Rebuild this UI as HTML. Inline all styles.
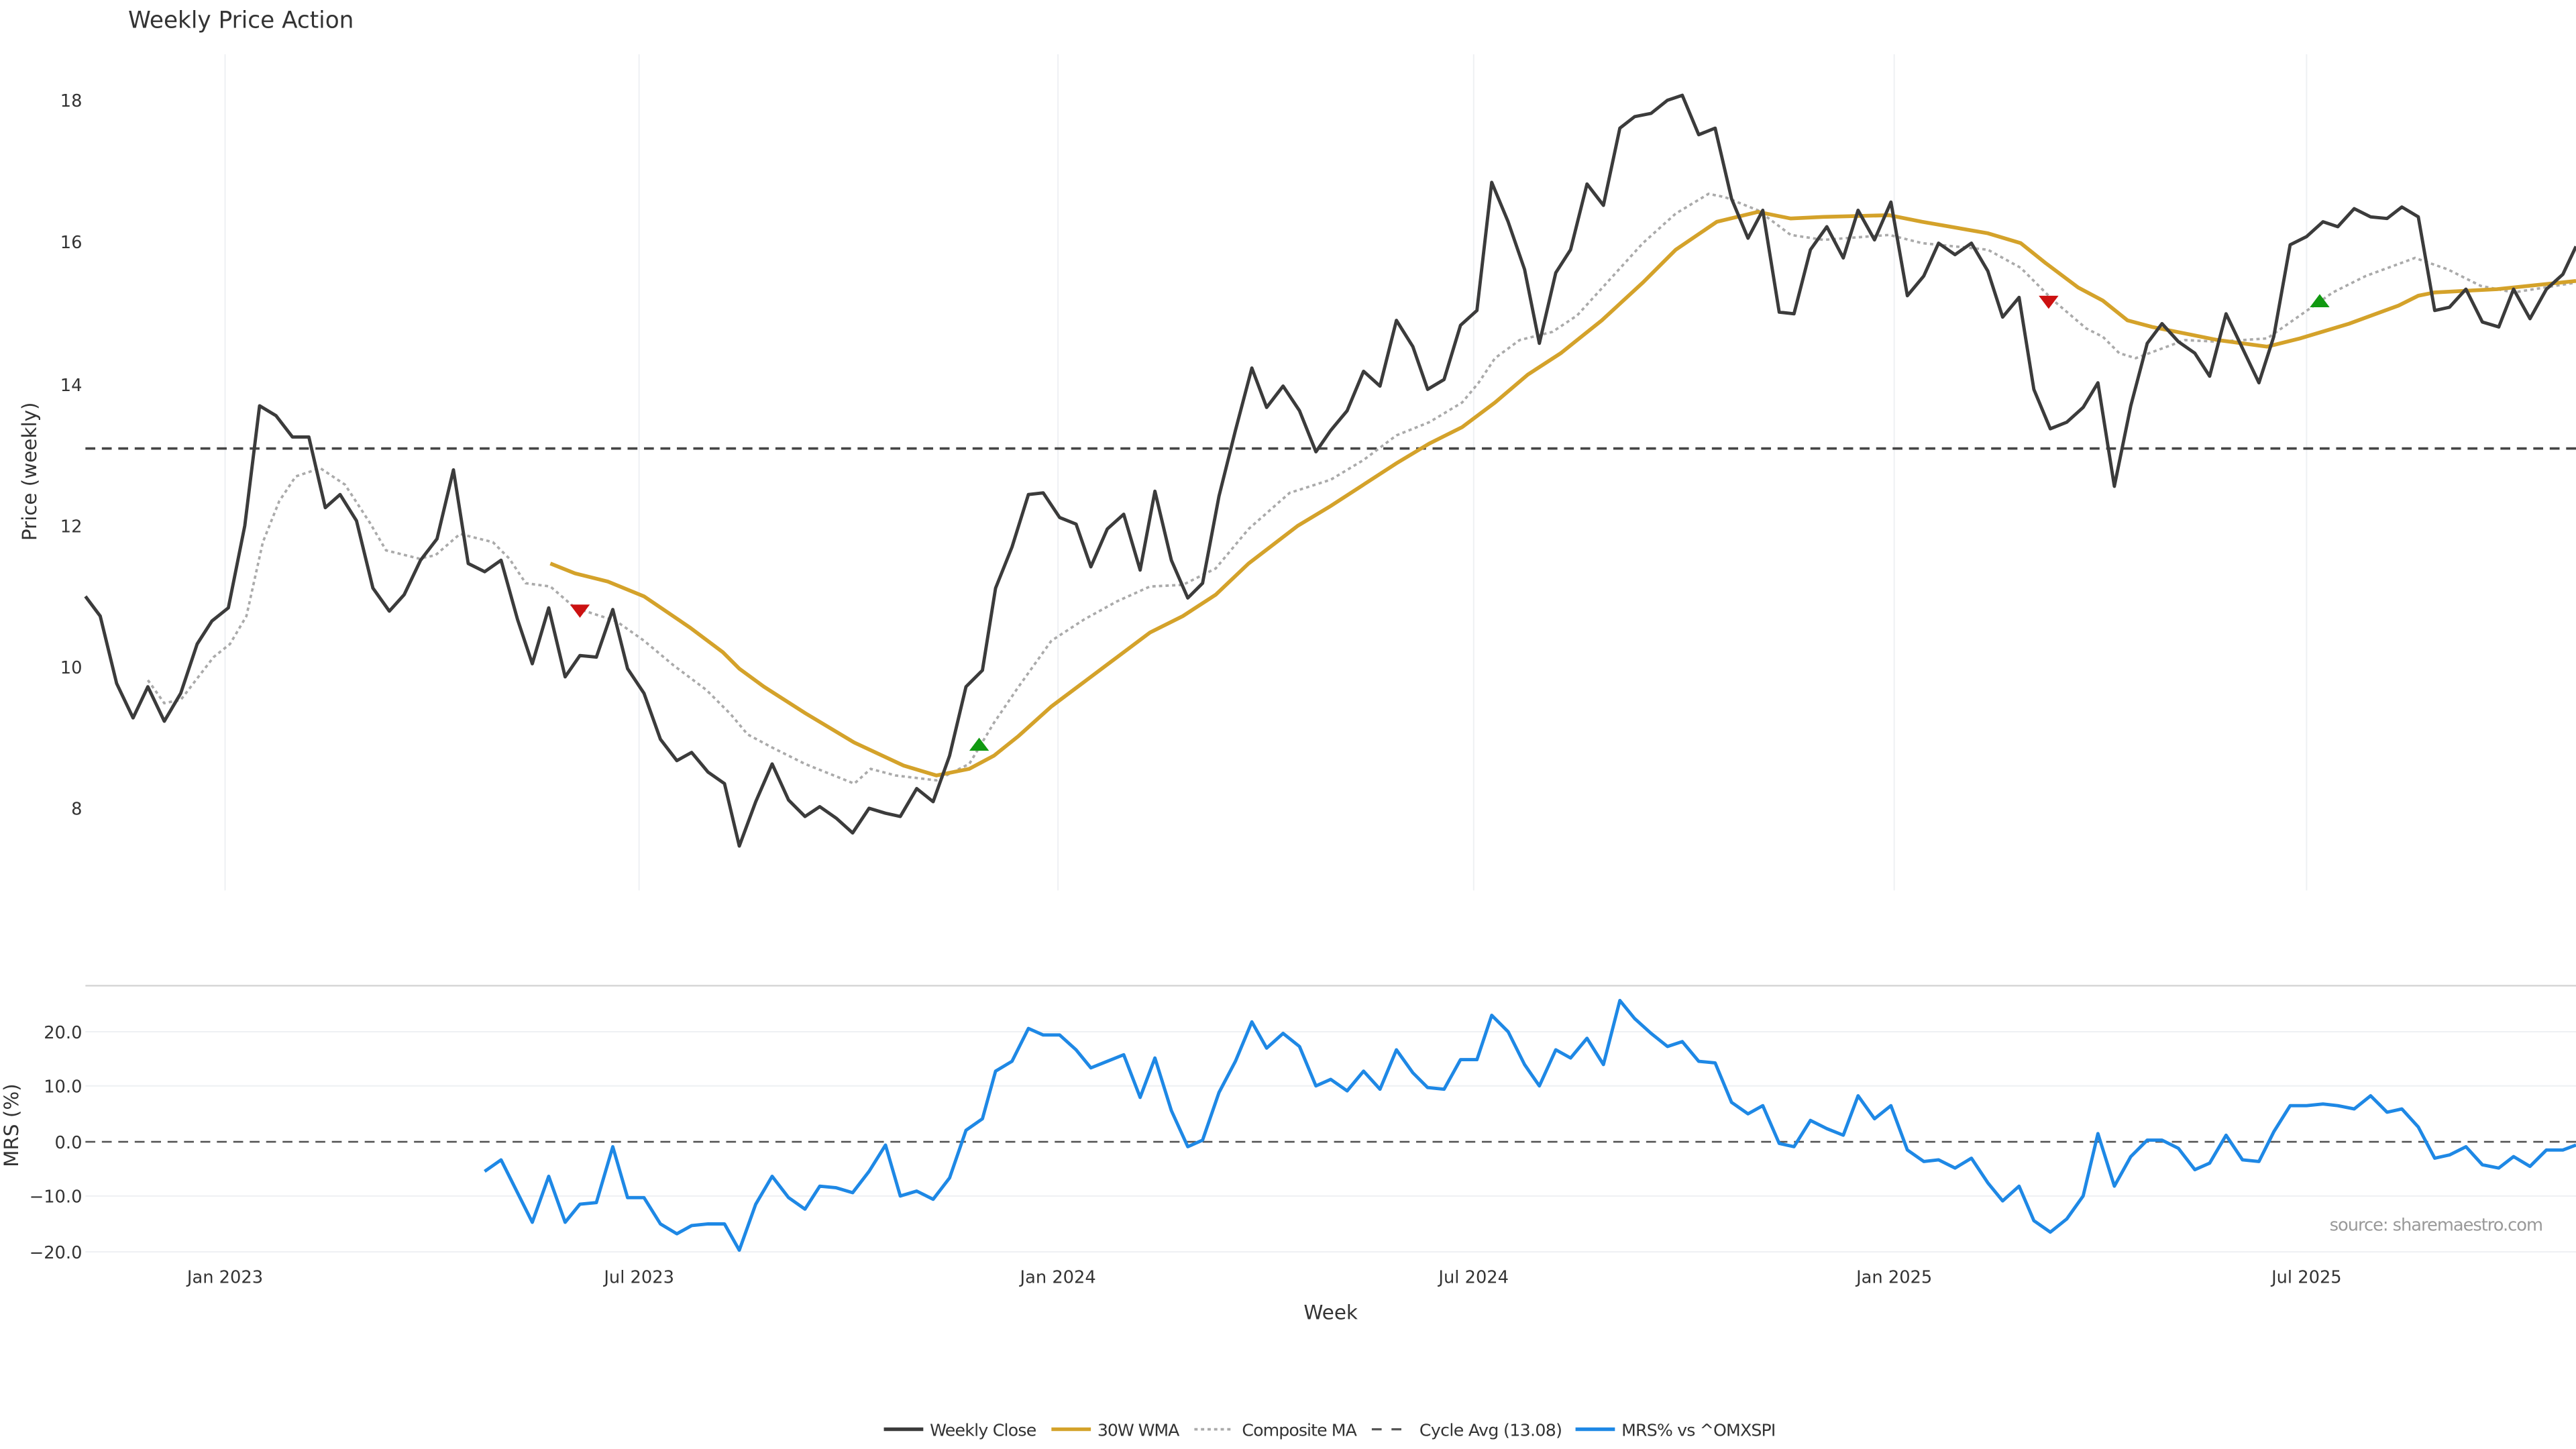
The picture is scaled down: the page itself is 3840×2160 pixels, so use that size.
<!DOCTYPE html>
<html><head><meta charset="utf-8"><style>
html,body{margin:0;padding:0;background:#fff;width:3840px;height:2160px;overflow:hidden}
svg{display:block}
text{font-family:"DejaVu Sans","Liberation Sans",sans-serif;fill:#333}
</style></head><body>
<svg width="3840" height="2160" viewBox="0 0 1568 882" xmlns="http://www.w3.org/2000/svg">
<rect width="1568" height="882" fill="#fff"/>
<text x="78" y="17" font-size="14">Weekly Price Action</text>
<g stroke="#eef0f3" stroke-width="0.8">
<line x1="137" y1="33" x2="137" y2="542"/><line x1="389" y1="33" x2="389" y2="542"/>
<line x1="644" y1="33" x2="644" y2="542"/><line x1="897" y1="33" x2="897" y2="542"/>
<line x1="1153" y1="33" x2="1153" y2="542"/><line x1="1404" y1="33" x2="1404" y2="542"/>
</g>
<g font-size="10.5" text-anchor="end">
<text x="50" y="65">18</text><text x="50" y="151">16</text><text x="50" y="238">14</text>
<text x="50" y="324">12</text><text x="50" y="410">10</text><text x="50" y="496">8</text>
</g>
<text transform="translate(22,287) rotate(-90)" font-size="12" text-anchor="middle">Price (weekly)</text>
<line x1="52" y1="273" x2="1568" y2="273" stroke="#444" stroke-width="1.5" stroke-dasharray="6,4"/>
<polyline fill="none" stroke="#aaa" stroke-width="1.5" stroke-dasharray="2,2" points="90,414 100,428 110,426 130,400 140,392 150,375 160,330 170,305 180,290 195,285 210,295 225,318 235,335 255,340 265,338 280,325 300,330 310,340 320,355 335,357 350,370 375,378 392,390 410,405 430,420 445,435 455,447 470,455 490,465 520,477 530,468 545,472 570,475 590,465 605,440 620,418 640,390 660,377 680,366 700,357 720,356 740,346 760,322 785,300 810,292 830,280 850,265 870,257 890,245 900,233 910,218 925,207 945,202 960,192 980,170 1000,148 1020,130 1040,118 1050,120 1070,128 1090,143 1110,146 1150,143 1170,148 1210,152 1230,163 1250,183 1270,200 1280,205 1290,215 1300,218 1330,207 1350,208 1380,206 1400,192 1420,178 1440,168 1470,157 1490,164 1510,174 1530,178 1568,172"/>
<polyline fill="none" stroke="#d4a22a" stroke-width="2.3" points="335,343 350,349 370,354 392,363 420,382 440,397 450,407 465,418 490,434 520,452 550,466 570,472 590,468 605,460 620,448 640,430 660,415 680,400 700,385 720,375 740,362 760,343 790,320 810,308 830,295 850,282 870,270 890,260 910,245 930,228 950,215 975,195 1000,172 1020,152 1045,135 1070,129 1090,133 1110,132 1150,131 1170,135 1210,142 1230,148 1245,160 1265,175 1280,183 1295,195 1310,199 1330,203 1350,207 1380,211 1400,206 1430,197 1460,186 1472,180 1482,178 1520,176 1568,171"/>
<polyline fill="none" stroke="#3b3b3b" stroke-width="2" stroke-linejoin="round" points="52,363 61,375 71,416 81,437 90,418 100,439 110,422 120,392 129,378 139,370 149,320 158,247 168,253 178,266 188,266 198,309 207,301 217,317 227,358 237,372 246,362 256,341 266,328 276,286 285,343 295,348 305,341 315,377 324,404 334,370 344,412 353,399 363,400 373,371 382,407 392,422 402,450 412,463 421,458 431,470 441,477 450,515 460,488 470,465 480,487 490,497 499,491 509,498 519,507 529,492 539,495 548,497 558,480 568,488 578,460 588,418 598,408 606,358 616,333 626,301 635,300 645,315 655,319 664,345 674,322 684,313 694,347 703,299 713,341 723,364 732,355 742,302 752,262 762,224 771,248 781,235 791,250 801,275 810,262 820,250 830,226 840,235 850,195 860,211 869,237 879,231 889,198 899,189 908,111 918,135 928,164 937,209 947,166 956,152 966,112 976,125 986,78 995,71 1005,69 1015,61 1024,58 1034,82 1044,78 1054,121 1064,145 1073,128 1083,190 1092,191 1102,152 1112,138 1122,157 1131,128 1141,146 1151,123 1161,180 1171,168 1180,148 1190,155 1200,148 1210,165 1219,193 1229,181 1238,237 1248,261 1258,257 1268,248 1277,233 1287,296 1297,247 1307,209 1316,197 1326,208 1336,215 1345,229 1355,191 1365,212 1375,233 1384,205 1394,149 1404,144 1414,135 1423,138 1433,127 1443,132 1453,133 1462,126 1472,132 1482,189 1491,187 1501,176 1511,196 1521,199 1530,176 1540,194 1550,176 1560,167 1568,150"/>
<polygon points="347,368 359,368 353,376" fill="#cc1111"/>
<polygon points="1241,180 1253,180 1247,188" fill="#cc1111"/>
<polygon points="590,457 602,457 596,449" fill="#119911"/>
<polygon points="1406,187 1418,187 1412,179" fill="#119911"/>
<line x1="52" y1="600" x2="1568" y2="600" stroke="#d6d6d6" stroke-width="1"/>
<g stroke="#eef0f3" stroke-width="0.8">
<line x1="52" y1="628" x2="1568" y2="628"/><line x1="52" y1="661" x2="1568" y2="661"/>
<line x1="52" y1="728" x2="1568" y2="728"/><line x1="52" y1="762" x2="1568" y2="762"/>
</g>
<line x1="52" y1="695" x2="1568" y2="695" stroke="#555" stroke-width="1.1" stroke-dasharray="6,4"/>
<g font-size="10.5" text-anchor="end">
<text x="50" y="632">20.0</text><text x="50" y="665">10.0</text><text x="50" y="699">0.0</text>
<text x="50" y="732">−10.0</text><text x="50" y="766">−20.0</text>
</g>
<text transform="translate(11,685) rotate(-90)" font-size="12" text-anchor="middle">MRS (%)</text>
<polyline fill="none" stroke="#1e88e5" stroke-width="2" stroke-linejoin="round" points="295,713 305,706 314,724 324,744 334,716 344,744 353,733 363,732 373,698 382,729 392,729 402,745 412,751 421,746 431,745 441,745 450,761 460,733 470,716 480,729 490,736 499,722 509,723 519,726 529,713 539,697 548,728 558,725 568,730 578,717 588,688 598,681 606,652 616,646 626,626 635,630 645,630 655,639 664,650 674,646 684,642 694,668 703,644 713,676 723,698 732,694 742,665 752,646 762,622 771,638 781,629 791,637 801,661 810,657 820,664 830,652 840,663 850,639 860,653 869,662 879,663 889,645 899,645 908,618 918,628 928,648 937,661 947,639 956,644 966,632 976,648 986,609 995,620 1005,629 1015,637 1024,634 1034,646 1044,647 1054,671 1064,678 1073,673 1083,696 1092,698 1102,682 1112,687 1122,691 1131,667 1141,681 1151,673 1161,700 1171,707 1180,706 1190,711 1200,705 1210,720 1219,731 1229,722 1238,743 1248,750 1258,742 1268,728 1277,690 1287,722 1297,704 1307,694 1316,694 1326,699 1336,712 1345,708 1355,691 1365,706 1375,707 1384,689 1394,673 1404,673 1414,672 1423,673 1433,675 1443,667 1453,677 1462,675 1472,686 1482,705 1491,703 1501,698 1511,709 1521,711 1530,704 1540,710 1550,700 1560,700 1568,697"/>
<text x="1548" y="749" font-size="10.5" text-anchor="end" textLength="130" style="fill:#999">source: sharemaestro.com</text>
<g font-size="10.5" text-anchor="middle">
<text x="137" y="781">Jan 2023</text><text x="389" y="781">Jul 2023</text><text x="644" y="781">Jan 2024</text>
<text x="897" y="781">Jul 2024</text><text x="1153" y="781">Jan 2025</text><text x="1404" y="781">Jul 2025</text>
</g>
<text x="810" y="803" font-size="12" text-anchor="middle">Week</text>
<g font-size="10.3">
<line x1="538" y1="870" x2="562" y2="870" stroke="#3b3b3b" stroke-width="2.2"/><text x="566" y="874" textLength="65">Weekly Close</text>
<line x1="640" y1="870" x2="664" y2="870" stroke="#d4a22a" stroke-width="2.2"/><text x="668" y="874" textLength="50">30W WMA</text>
<line x1="727" y1="870" x2="751" y2="870" stroke="#aaa" stroke-width="1.5" stroke-dasharray="2,2"/><text x="756" y="874" textLength="70">Composite MA</text>
<line x1="835" y1="870" x2="859" y2="870" stroke="#555" stroke-width="1.3" stroke-dasharray="6,6"/><text x="864" y="874" textLength="87">Cycle Avg (13.08)</text>
<line x1="959" y1="870" x2="983" y2="870" stroke="#1e88e5" stroke-width="2.2"/><text x="987" y="874" textLength="94">MRS% vs ^OMXSPI</text>
</g>
</svg>
</body></html>
